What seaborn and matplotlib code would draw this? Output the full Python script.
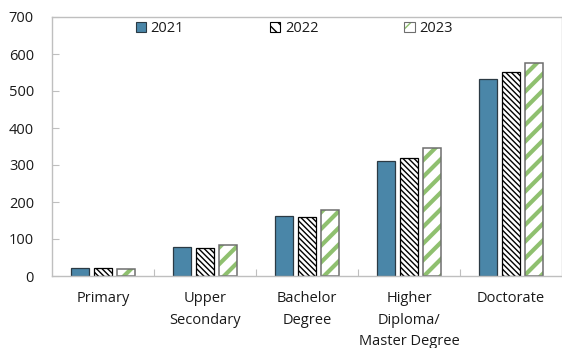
import numpy as np
import pandas as pd
import matplotlib
matplotlib.use("Agg")
import matplotlib.pyplot as plt
import seaborn as sns
from matplotlib.patches import Patch, Rectangle
from matplotlib.legend_handler import HandlerTuple
from matplotlib.ticker import FixedLocator

# Education levels and yearly values
categories = ["Primary", "Upper\nSecondary", "Bachelor\nDegree",
              "Higher\nDiploma/\nMaster Degree", "Doctorate"]
years = ["2021", "2022", "2023"]
v2021 = [21, 79, 162, 310, 533]
v2022 = [22, 76, 160, 318, 552]
v2023 = [20, 83, 178, 347, 575]
y_ticks = [0, 100, 200, 300, 400, 500, 600, 700]

sns.set_theme(style="white")
plt.rcParams["font.family"] = ["Open Sans", "DejaVu Sans"]

df = pd.DataFrame({
    "level": categories * 3,
    "year": np.repeat(years, len(categories)),
    "value": v2021 + v2022 + v2023,
})

BLUE = "#4a86a8"
GREEN = "#8fc06f"
GRID = "#bfbfbf"
TXT = "#1a1a1a"
FS = 10.5

fig = plt.figure(figsize=(5.62, 3.48), dpi=100)
ax = fig.add_axes([52 / 562, 72 / 348, 510 / 562, 259 / 348])

palette = {"2021": BLUE, "2022": "white", "2023": "white"}
sns.barplot(data=df, x="level", y="value", hue="year", order=categories,
            hue_order=years, palette=palette, width=0.675, gap=0.22,
            saturation=1, errorbar=None, legend=False, ax=ax)

c21, c22, c23 = ax.containers[:3]
for p in c21:
    p.set_edgecolor("#2b3a44")
    p.set_linewidth(0.9)
for p in c22:
    p.set_facecolor("white")
    p.set_edgecolor("black")
    p.set_hatch("\\\\\\\\\\\\")
    p.set_linewidth(0.9)
    if hasattr(p, "set_hatch_linewidth"):
        p.set_hatch_linewidth(1.0)
for p in c23:
    p.set_facecolor("white")
    p.set_edgecolor(GREEN)
    p.set_hatch("//")
    p.set_linewidth(0)
    if hasattr(p, "set_hatch_linewidth"):
        p.set_hatch_linewidth(3.0)
    # outline drawn on top of the striped fill
    ax.add_patch(Rectangle(p.get_xy(), p.get_width(), p.get_height(),
                           facecolor="none", edgecolor="#6e6e6e",
                           linewidth=1.1, zorder=p.get_zorder() + 0.1))

ax.set_xlim(-0.5, len(categories) - 0.5)
ax.set_ylim(0, 700)
ax.yaxis.set_major_locator(FixedLocator(y_ticks))
ax.set_xlabel("")
ax.set_ylabel("")

ax.tick_params(axis="x", which="major", length=0, pad=11, labelsize=FS,
               labelcolor=TXT)
ax.xaxis.set_minor_locator(FixedLocator(np.arange(0.5, len(categories) - 1, 1)))
ax.tick_params(axis="x", which="minor", direction="in", length=5,
               color=GRID, width=0.8, bottom=True)
ax.tick_params(axis="y", direction="in", length=5, color=GRID, width=0.8,
               left=True, pad=13, labelsize=FS, labelcolor=TXT)
for lab in ax.get_xticklabels():
    lab.set_linespacing(1.6)
    lab.set_verticalalignment("top")

for side in ["left", "bottom", "top", "right"]:
    ax.spines[side].set_color(GRID)
    ax.spines[side].set_linewidth(1.0)

h23_fill = Patch(facecolor="white", edgecolor=GREEN, hatch="/", linewidth=0)
h23_edge = Patch(facecolor="none", edgecolor="#6e6e6e", linewidth=0.8)
handles = [
    Patch(facecolor=BLUE, edgecolor="#2b3a44", linewidth=0.8),
    Patch(facecolor="white", edgecolor="black", hatch="\\\\\\", linewidth=0.8),
    (h23_fill, h23_edge),
]
ax.legend(handles, years, loc="center", bbox_to_anchor=(0.475, 0.955),
          ncol=3, frameon=False, fontsize=FS, handlelength=0.7,
          handleheight=0.7, handletextpad=0.3, columnspacing=5.9,
          labelcolor=TXT, handler_map={tuple: HandlerTuple(ndivide=1, pad=0)})

fig.savefig("out.png", dpi=100)
